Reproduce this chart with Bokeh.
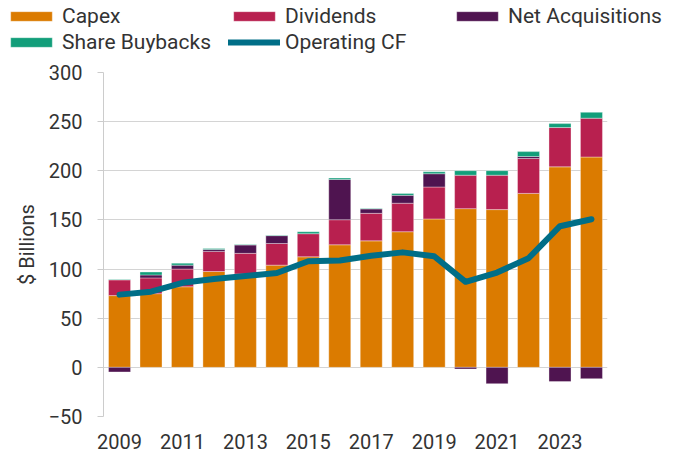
import numpy as np
from bokeh.plotting import figure
from bokeh.layouts import column, row
from bokeh.models import (Range1d, FixedTicker, Legend, LegendItem)
from bokeh.embed import file_html
from bokeh.resources import INLINE

# ---- data ($ billions) ----
years = [2009, 2010, 2011, 2012, 2013, 2014, 2015, 2016,
         2017, 2018, 2019, 2020, 2021, 2022, 2023, 2024]
capex = [73, 75, 82, 97.5, 95, 104, 112.5, 124.7,
         128.7, 138, 151, 161.5, 160.5, 177, 204, 214]
dividends = [16, 16, 18, 20.5, 21, 22, 23.5, 25.5,
             28, 29, 32.5, 34, 35, 35.5, 40, 39.5]
net_acquisitions = [-4.7, 3, 4, 2, 8.5, 8, 0, 41,
                    4.5, 8, 13.5, -1.7, -16.6, 2, -14.5, -11.5]
share_buybacks = [0.5, 3, 2, 1, 0.5, 0.5, 2, 1.4,
                  0.5, 2, 2, 4.6, 4.6, 5, 4, 6]
operating_cf = [74, 77, 86, 90, 93, 96, 108, 108.7,
                113.5, 117, 113, 87, 96.5, 111, 143.6, 150.7]
x_ticks = [2009, 2011, 2013, 2015, 2017, 2019, 2021, 2023]
y_ticks = [-50, 0, 50, 100, 150, 200, 250, 300]
series_names = ["Capex", "Dividends", "Net Acquisitions", "Share Buybacks"]
line_name = "Operating CF"

C_CAPEX = "#DB7B00"
C_DIV = "#B8204F"
C_NA = "#4F1450"
C_BB = "#129E7A"
C_CF = "#006E87"
bar_colors = [C_CAPEX, C_DIV, C_NA, C_BB]
TXT = "#333333"
FONT = "Roboto"

yrs = np.array(years, dtype=float)
cap = np.array(capex, dtype=float)
div = np.array(dividends, dtype=float)
na = np.array(net_acquisitions, dtype=float)
bb = np.array(share_buybacks, dtype=float)

na_pos = np.clip(na, 0, None)
na_neg = np.clip(na, None, 0)

W = 672
LEG_H = 60

p = figure(width=W, height=455 - LEG_H,
           min_border_left=103, min_border_top=72 - LEG_H, min_border_right=65,
           min_border_bottom=39,
           x_range=Range1d(2008.49, 2024.51), y_range=Range1d(-50, 300),
           output_backend="svg", toolbar_location=None)

bar_kw = dict(width=0.7, line_color="white", line_alpha=0.35, line_width=1)

p.vbar(x=yrs, bottom=0, top=cap, fill_color=C_CAPEX, **bar_kw)
p.vbar(x=yrs, bottom=cap, top=cap + div, fill_color=C_DIV, **bar_kw)
m = na_pos > 0
p.vbar(x=yrs[m], bottom=(cap + div)[m], top=(cap + div + na_pos)[m],
       fill_color=C_NA, **bar_kw)
mb = bb > 0
base_bb = cap + div + na_pos
p.vbar(x=yrs[mb], bottom=base_bb[mb], top=(base_bb + bb)[mb],
       fill_color=C_BB, **bar_kw)
mn = na_neg < 0
p.vbar(x=yrs[mn], bottom=na_neg[mn], top=0, fill_color=C_NA, **bar_kw)

p.line(x=years, y=operating_cf, line_width=6, line_color=C_CF,
       line_cap="round", line_join="round")

# axes
p.xaxis.ticker = FixedTicker(ticks=x_ticks)
p.yaxis.ticker = FixedTicker(ticks=y_ticks)
p.xaxis.axis_line_color = None
p.xaxis.major_tick_line_color = None
p.xaxis.minor_tick_line_color = None
p.xaxis.major_label_standoff = 11
p.yaxis.axis_line_color = "#cccccc"
p.yaxis.major_tick_line_color = "#cccccc"
p.yaxis.major_tick_out = 6
p.yaxis.major_tick_in = 0
p.yaxis.minor_tick_line_color = None
p.yaxis.major_label_standoff = 15
p.yaxis.axis_label = "$ Billions"
p.yaxis.axis_label_standoff = 7
for ax in (p.xaxis, p.yaxis):
    ax.major_label_text_font = FONT
    ax.major_label_text_font_size = "20px"
    ax.major_label_text_color = TXT
    ax.axis_label_text_font = FONT
    ax.axis_label_text_font_size = "20px"
    ax.axis_label_text_font_style = "normal"
    ax.axis_label_text_color = TXT

p.xgrid.grid_line_color = None
p.ygrid.grid_line_color = "#d4d4d4"
p.ygrid.grid_line_width = 1
p.outline_line_color = None

# ---- legend strip (separate figure; its renderers hold no visible data) ----
lg = figure(width=W, height=LEG_H, min_border=0,
            x_range=Range1d(0, 1), y_range=Range1d(0, 1),
            x_axis_location=None, y_axis_location=None,
            output_backend="svg", toolbar_location=None)
lg.grid.visible = False
lg.outline_line_color = None
nan = [float("nan")]
items = []
for name, col in zip(series_names, bar_colors):
    r = lg.vbar(x=nan, top=nan, width=0.5, fill_color=col,
                line_color="white", line_alpha=0.35)
    items.append(LegendItem(label=name, renderers=[r]))
rl = lg.line(x=nan, y=nan, line_width=6, line_color=C_CF, line_cap="round")
items.append(LegendItem(label=line_name, renderers=[rl]))

legend = Legend(items=items, orientation="horizontal", ncols=3,
                location=(5, 6),
                glyph_width=52, glyph_height=12, label_standoff=5,
                label_width=164, label_height=20, spacing=2, padding=0,
                margin=0, label_text_font=FONT, label_text_font_size="21px",
                label_text_color=TXT, border_line_color=None,
                background_fill_alpha=0)
lg.add_layout(legend, "center")

layout = column(row(lg), row(p), spacing=0)
open("out.html", "w").write(file_html(layout, INLINE))
